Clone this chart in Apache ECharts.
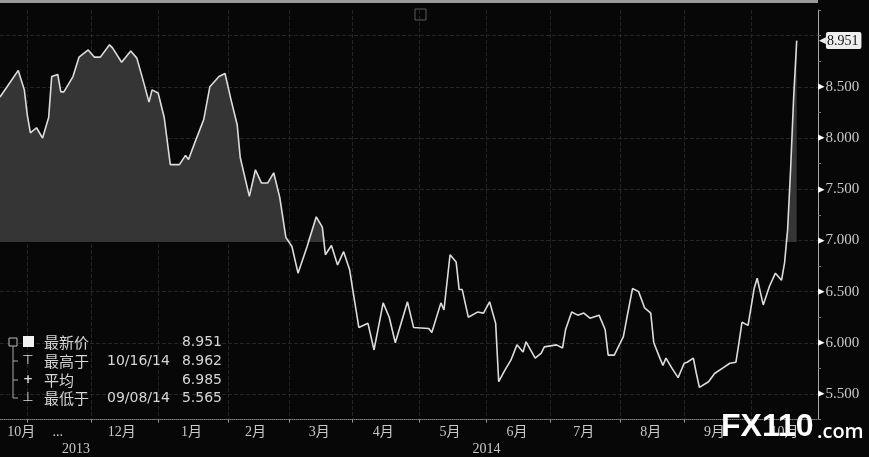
<!DOCTYPE html>
<html><head><meta charset="utf-8">
<script src="https://cdn.jsdelivr.net/npm/echarts@6/dist/echarts.min.js"></script>
<style>html,body{margin:0;padding:0;background:#070707;}#c{width:869px;height:457px;}</style>
</head><body><div id="c"></div>
<script>
// ---------- data ----------
const startDate = [2013, 9, 21];           // first trading day on the axis (2013-10-21)
const slotCount = 270;                     // trading-day slots on the axis
const monthLabels = ['10月','...','12月','1月','2月','3月','4月','5月','6月','7月','8月','9月','10月'];
const yearLabels = ['2013','2014'];
const yLabelValues = [5.5, 6.0, 6.5, 7.0, 7.5, 8.0, 8.5];
const pointIdx = [0,3,6,8,9,10,12,14,16,17,19,20,21,24,26,29,31,33,36,37,40,43,45,47,49,50,52,54,56,59,61,62,64,67,69,72,74,76,78,79,82,84,86,88,90,92,94,96,98,101,104,106,107,109,111,113,115,116,118,121,123,126,128,130,134,136,141,142,145,146,148,150,151,152,154,157,159,161,163,164,166,168,170,172,173,176,178,179,183,185,186,188,190,192,194,197,199,200,202,205,206,208,210,212,214,215,217,218,219,221,223,225,226,228,229,230,233,235,238,240,242,243,244,246,248,249,250,251,253,255,257,258,259,260,261,262];
const pointVal = [8.40,8.53,8.66,8.47,8.22,8.05,8.10,8.00,8.20,8.60,8.62,8.45,8.45,8.60,8.79,8.86,8.79,8.79,8.91,8.88,8.74,8.85,8.78,8.57,8.35,8.47,8.44,8.20,7.74,7.74,7.83,7.79,7.95,8.18,8.50,8.60,8.63,8.37,8.13,7.81,7.43,7.69,7.56,7.56,7.66,7.42,7.03,6.94,6.68,6.94,7.23,7.13,6.86,6.95,6.76,6.89,6.71,6.52,6.15,6.19,5.93,6.39,6.25,6.00,6.40,6.15,6.14,6.10,6.39,6.32,6.86,6.79,6.52,6.52,6.25,6.30,6.29,6.40,6.19,5.62,5.73,5.83,5.98,5.91,6.01,5.85,5.90,5.96,5.98,5.95,6.13,6.30,6.27,6.29,6.24,6.27,6.13,5.88,5.88,6.06,6.22,6.53,6.50,6.34,6.29,6.00,5.85,5.78,5.85,5.75,5.66,5.80,5.81,5.85,5.70,5.565,5.62,5.70,5.76,5.80,5.81,6.00,6.20,6.17,6.53,6.63,6.50,6.37,6.55,6.68,6.61,6.78,7.10,7.70,8.40,8.951];
const lastPrice = 8.951;
const highDate = '10/16/14', highVal = 8.962;
const avgVal = 6.985;
const lowDate = '09/08/14', lowVal = 5.565;

// ---------- build categories (weekdays) ----------
const categories = [];
const d = new Date(Date.UTC(startDate[0], startDate[1], startDate[2]));
while (categories.length < slotCount) {
  const wd = d.getUTCDay();
  if (wd !== 0 && wd !== 6) categories.push(d.toISOString().slice(0, 10));
  d.setUTCDate(d.getUTCDate() + 1);
}
const boundaryIdx = new Set();
const monthGroups = [], yearGroups = [];
categories.forEach((c, i) => {
  const m = c.slice(0, 7), y = c.slice(0, 4);
  if (i === 0 || m !== categories[i - 1].slice(0, 7)) {
    if (i > 0) boundaryIdx.add(i);
    monthGroups.push({ first: i, last: i });
  } else monthGroups[monthGroups.length - 1].last = i;
  if (i === 0 || y !== categories[i - 1].slice(0, 4)) yearGroups.push({ first: i, last: i });
  else yearGroups[yearGroups.length - 1].last = i;
});
const monthLabelAt = new Map();
monthGroups.forEach((g, k) => {
  let mid = Math.floor((g.first + g.last) / 2);
  if (k === 0) mid = Math.max(mid, 7);
  if (monthLabels[k] !== undefined) monthLabelAt.set(mid, monthLabels[k]);
});
const yearLabelAt = new Map();
yearGroups.forEach((g, k) => { if (yearLabels[k]) yearLabelAt.set(Math.floor((g.first + g.last) / 2), yearLabels[k]); });

const seriesData = pointIdx.map((ix, k) => [ix, pointVal[k]]);
// shading between the line and the average where the line is above the average
const aboveAvgData = pointIdx.map((ix, k) => [ix, Math.max(pointVal[k], avgVal)]);

const serif = '"Liberation Serif", "Noto Sans CJK SC", serif';
const sans = '"Noto Sans CJK SC", "DejaVu Sans", sans-serif';
const txtColor = '#c9c9c9';

const chart = echarts.init(document.getElementById('c'), null, { renderer: 'canvas' });
const rowY = [342, 361, 380, 398];
const Z = 30;
const legendGraphics = [
  { type: 'rect', z: Z, shape: { x: 9, y: 338, width: 8, height: 8 }, style: { fill: '#070707', stroke: '#bbb', lineWidth: 1 } },
  { type: 'line', z: Z, shape: { x1: 13, y1: 346, x2: 13, y2: rowY[3] }, style: { stroke: '#aaa', lineWidth: 1 } },
  { type: 'line', z: Z, shape: { x1: 13, y1: rowY[1], x2: 18, y2: rowY[1] }, style: { stroke: '#aaa', lineWidth: 1 } },
  { type: 'line', z: Z, shape: { x1: 13, y1: rowY[2], x2: 18, y2: rowY[2] }, style: { stroke: '#aaa', lineWidth: 1 } },
  { type: 'line', z: Z, shape: { x1: 13, y1: rowY[3], x2: 18, y2: rowY[3] }, style: { stroke: '#aaa', lineWidth: 1 } },
  { type: 'rect', z: Z, shape: { x: 23, y: 336, width: 11, height: 11 }, style: { fill: '#f2f2f2', stroke: 'none' } },
  { type: 'text', z: Z, x: 28, y: rowY[1], style: { text: '⊤', fill: '#ddd', font: '13px "DejaVu Sans"', align: 'center', verticalAlign: 'middle' } },
  { type: 'text', z: Z, x: 28, y: rowY[2], style: { text: '+', fill: '#ddd', font: 'bold 12px "DejaVu Sans"', align: 'center', verticalAlign: 'middle' } },
  { type: 'text', z: Z, x: 28, y: rowY[3], style: { text: '⊥', fill: '#ddd', font: '13px "DejaVu Sans"', align: 'center', verticalAlign: 'middle' } }
];
const names = ['最新价', '最高于', '平均', '最低于'];
const dates = ['', highDate, '', lowDate];
const vals = [lastPrice, highVal, avgVal, lowVal];
names.forEach((n, k) => {
  legendGraphics.push({ type: 'text', z: Z, x: 44, y: rowY[k], style: { text: n, fill: '#d6d6d6', font: '15px ' + sans, verticalAlign: 'middle' } });
  if (dates[k]) legendGraphics.push({ type: 'text', z: Z, x: 107, y: rowY[k], style: { text: dates[k], fill: '#d6d6d6', font: '14px "DejaVu Sans"', verticalAlign: 'middle' } });
  legendGraphics.push({ type: 'text', z: Z, x: 222, y: rowY[k], style: { text: vals[k].toFixed(3), fill: '#d6d6d6', font: '14px "DejaVu Sans"', align: 'right', verticalAlign: 'middle' } });
});

const option = {
  backgroundColor: '#070707',
  animation: false,
  grid: { left: 0, right: 51, top: 10, bottom: 37.4, containLabel: false, outerBoundsMode: 'none' },
  xAxis: [
    {
      type: 'category', data: categories, boundaryGap: false,
      axisLine: { show: true, lineStyle: { color: '#808080', type: 'dotted', width: 1 } },
      axisTick: { show: true, length: 3, interval: (i) => boundaryIdx.has(i), lineStyle: { color: '#9a9a9a' } },
      axisLabel: { show: true, interval: (i) => monthLabelAt.has(i), formatter: (v, i) => monthLabelAt.get(i) || '', color: txtColor, fontSize: 14, fontFamily: serif, margin: 6 },
      splitLine: { show: true, interval: (i) => boundaryIdx.has(i), lineStyle: { color: '#242424', type: 'dashed', width: 1 } }
    },
    {
      type: 'category', data: categories, boundaryGap: false, position: 'bottom',
      axisLine: { show: false }, axisTick: { show: false }, splitLine: { show: false },
      axisLabel: { show: true, interval: (i) => yearLabelAt.has(i), formatter: (v, i) => yearLabelAt.get(i) || '', color: txtColor, fontSize: 14, fontFamily: serif, margin: 23 }
    }
  ],
  yAxis: [
    {
      type: 'value', position: 'right', min: 5.25, max: 9.25, interval: 0.25,
      axisLine: { show: true, lineStyle: { color: '#a8a8a8', width: 1 } },
      axisTick: { show: true, length: 3, lineStyle: { color: '#7a7a7a' } },
      axisLabel: {
        margin: 0, color: txtColor, fontSize: 15, fontFamily: serif,
        formatter: (v) => yLabelValues.some(t => Math.abs(t - v) < 1e-6) ? '{t|▸}' + v.toFixed(3) : '',
        rich: { t: { color: '#ffffff', fontSize: 13, fontFamily: '"DejaVu Sans"', padding: [0, 1, 0, 0] } }
      },
      splitLine: { show: true, lineStyle: { color: ['rgba(0,0,0,0)', '#262626'], type: 'dashed', width: 1 } }
    },
    {
      type: 'value', position: 'right', min: 5.25, max: 9.25,
      axisLine: { show: false }, axisTick: { show: false }, splitLine: { show: false },
      axisLabel: {
        customValues: [lastPrice], margin: 1,
        formatter: (v) => '{p|◀}{b|' + v.toFixed(3) + '}',
        rich: {
          p: { color: '#eeeeee', fontSize: 9, fontFamily: '"DejaVu Sans"' },
          b: { color: '#111', backgroundColor: '#eeeeee', fontSize: 14, fontFamily: serif, padding: [2, 3, 1, 1], borderRadius: 2 }
        }
      }
    }
  ],
  series: [
    {
      type: 'line', data: aboveAvgData, symbol: 'none', silent: true, z: 1,
      lineStyle: { width: 0, color: 'rgba(0,0,0,0)' },
      areaStyle: { origin: avgVal, color: '#353535', opacity: 1 }
    },
    {
      type: 'line', data: seriesData, symbol: 'none', silent: true, z: 3,
      lineStyle: { color: '#dcdcdc', width: 1.6 }
    }
  ],
  graphic: [
    { type: 'rect', z: 10, shape: { x: 0, y: 0, width: 818, height: 3 }, style: { fill: '#9a9a9a' } },
    { type: 'rect', z: 10, shape: { x: 415, y: 9, width: 11, height: 11 }, style: { fill: 'none', stroke: '#5a5a5a', lineWidth: 1 } },
    { type: 'group', children: legendGraphics },
    { type: 'text', z: 40, x: 721, y: 427, style: { text: 'FX110', fill: '#ffffff', font: 'bold 32px "Liberation Sans"', verticalAlign: 'middle' } },
    { type: 'text', z: 40, x: 817, y: 432, style: { text: '.com', fill: '#ffffff', font: '600 20px "Open Sans"', verticalAlign: 'middle' } }
  ]
};
chart.setOption(option);
</script>
</body></html>
